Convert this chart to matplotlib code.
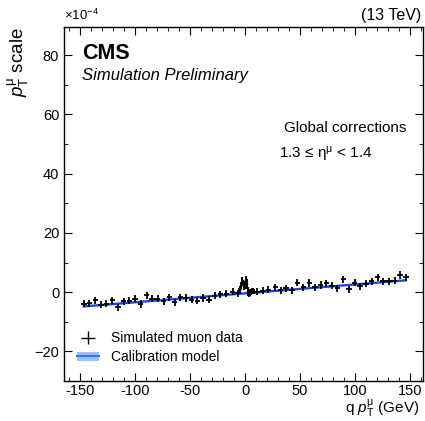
import matplotlib.pyplot as plt
import matplotlib.ticker as mticker
from matplotlib.patches import Patch
from matplotlib.lines import Line2D
import numpy as np

plt.rcParams['font.family'] = ['Liberation Sans', 'DejaVu Sans']
plt.rcParams['mathtext.fontset'] = 'custom'
plt.rcParams['mathtext.rm'] = 'Liberation Sans'
plt.rcParams['mathtext.it'] = 'Liberation Sans:italic'
plt.rcParams['mathtext.bf'] = 'Liberation Sans:bold'

# simulated muon data, scale in units of 1e-4, q*pT in GeV
qpt = [-147.0, -141.8, -136.4, -131.2, -126.4, -120.9, -115.8, -110.6, -105.5, -100.3,
       -95.2, -89.7, -84.8, -79.7, -74.2, -69.1, -64.2, -59.1, -53.9, -48.8,
       -43.6, -38.2, -33.0, -27.9, -22.5, -17.0, -11.5, -6.4,
       10.6, 16.1, 21.2, 27.6, 32.4, 37.3, 42.7, 47.6, 53.0, 58.5,
       63.6, 68.8, 73.9, 79.1, 83.9, 89.4, 94.5, 99.7, 104.8, 110.0,
       115.2, 120.6, 125.7, 130.9, 136.1, 140.9, 146.4]
scale = [-3.9, -3.7, -2.8, -4.2, -3.9, -2.8, -5.1, -3.1, -2.9, -2.3,
         -4.0, -1.0, -2.3, -2.2, -3.1, -1.8, -3.4, -1.8, -2.0, -2.6,
         -2.9, -2.0, -2.6, -1.2, -0.7, -0.6, 0.1, -0.4,
         0.2, 0.4, 0.8, 1.7, 0.7, 1.3, 0.6, 3.2, 1.6, 3.1,
         1.7, 2.4, 3.0, 2.1, 1.3, 4.3, 1.0, 3.2, 2.0, 2.8,
         3.6, 5.0, 3.6, 3.6, 3.9, 5.8, 5.0]

# fine binning around zero
qpt_c = [-6.0, -5.5, -5.0, -4.5, -4.0, -3.5, -3.0, -2.5, -2.0, -1.5, -1.0, -0.5, 0.0,
         0.5, 1.0, 1.5, 2.0, 2.5, 3.0, 3.5, 4.0, 4.5, 5.0, 5.5, 6.0, 7.0, 8.0]
scale_c = [0.2, 0.5, 0.8, 1.2, 1.7, 2.5, 3.3, 4.0, 3.2, 2.3, 1.8, 1.9, 2.8,
           3.8, 4.5, 3.4, 2.2, 0.9, -0.2, -0.8, -0.4, 0.1, 0.0, 0.2, 0.3, 0.3, 0.2]

# calibration model
model_x = [-147, -100, -50, 0, 50, 100, 146]
model_y = [-4.8, -3.4, -1.9, -0.4, 1.1, 2.6, 4.0]
model_err = [0.3, 0.25, 0.2, 0.2, 0.2, 0.25, 0.3]

fig = plt.figure(figsize=(4.25, 4.21), dpi=100)
ax = fig.add_axes([0.1506, 0.095, 0.8447, 0.8409])

model_y = np.array(model_y)
model_err = np.array(model_err)
ax.fill_between(model_x, model_y - model_err, model_y + model_err, color='#99c2ff', lw=0)
ax.plot(model_x, model_y, color='#1f3dff', lw=1.6)

ax.errorbar(qpt, scale, xerr=2.5, yerr=1.2, fmt='none', ecolor='black', elinewidth=1.3)
ax.errorbar(qpt_c, scale_c, xerr=0.3, yerr=1.0, fmt='none', ecolor='black', elinewidth=1.5)

ax.set_xlim(-165, 162)
ax.set_ylim(-30, 89.5)
ax.xaxis.set_major_locator(mticker.MultipleLocator(50))
ax.xaxis.set_minor_locator(mticker.MultipleLocator(10))
ax.yaxis.set_major_locator(mticker.MultipleLocator(20))
ax.yaxis.set_minor_locator(mticker.MultipleLocator(10))
ax.xaxis.set_major_formatter(mticker.FuncFormatter(lambda v, p: f"{int(round(v))}"))
ax.tick_params(which='both', direction='in', top=True, right=True, labelsize=10.5)
ax.tick_params(axis='x', pad=2.5)
ax.tick_params(which='major', length=6)
ax.tick_params(which='minor', length=3)
for s in ax.spines.values():
    s.set_linewidth(1.0)

ax.set_xlabel(r"q $p_{\mathrm{T}}^{\mathrm{\mu}}$ (GeV)", fontsize=11, labelpad=-0.5, ha='right', x=0.99)
ax.set_ylabel(r"$p_{\mathrm{T}}^{\mathrm{\mu}}$ scale", loc='top', fontsize=13.5, labelpad=2)

ax.text(0.05, 0.955, "CMS", transform=ax.transAxes, fontsize=15.5, fontweight='bold', va='top')
ax.text(0.05, 0.885, "Simulation Preliminary", transform=ax.transAxes, fontsize=12, style='italic', va='top')
ax.text(0.955, 0.716, "Global corrections", transform=ax.transAxes, fontsize=11, ha='right', va='center')
ax.text(0.599, 0.64, r"1.3 ≤ η$^{\mathrm{\mu}}$ < 1.4", transform=ax.transAxes, fontsize=11, ha='left', va='center')
ax.text(0.995, 1.01, "(13 TeV)", transform=ax.transAxes, fontsize=11.5, ha='right', va='bottom')
ax.text(0.0, 1.01, r"×10$^{-4}$", transform=ax.transAxes, fontsize=9.5, ha='left', va='bottom')

data_h = ax.errorbar([], [], xerr=1, yerr=1, fmt='none', ecolor='black', elinewidth=1.0)
model_h = (Patch(color='#99c2ff', lw=0), Line2D([], [], color='#3377ee', lw=1.5))
ax.legend([data_h, model_h], ["Simulated muon data", "Calibration model"],
          loc='lower left', bbox_to_anchor=(0.0, 0.012), frameon=False, fontsize=10,
          handlelength=1.6, handletextpad=0.9, labelspacing=0.35)

fig.savefig('out.png', dpi=100)
